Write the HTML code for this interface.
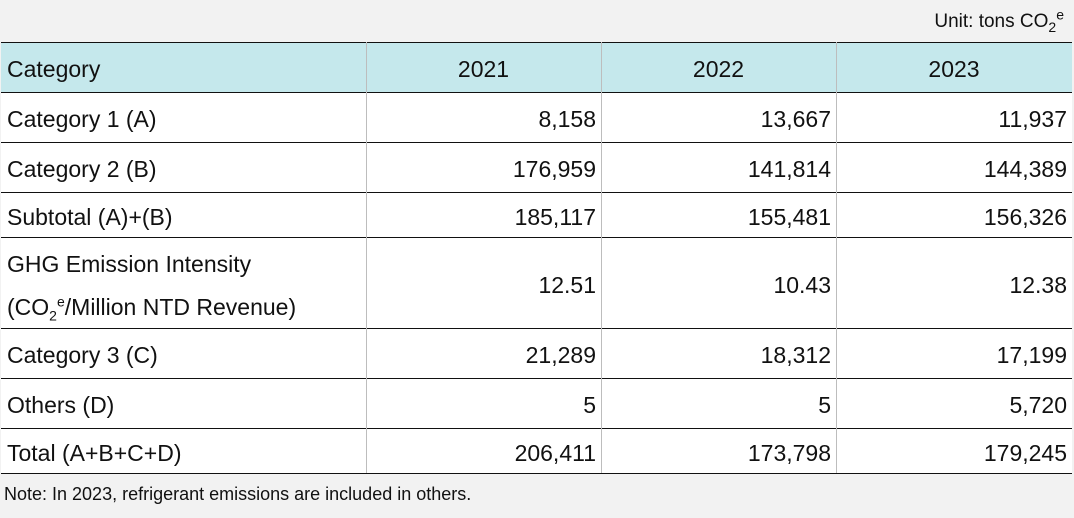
<!DOCTYPE html>
<html><head><meta charset="utf-8"><style>
body{margin:0;width:1074px;height:518px;background:#f2f2f2;font-family:"Liberation Sans",sans-serif;color:#111;position:relative;overflow:hidden}
.a{position:absolute}
.hl{position:absolute;left:1px;width:1071px;height:1.5px;background:#111}
.vl{position:absolute;width:1px;background:#bdbdbd}
.t{position:absolute;font-size:23px;line-height:26px;white-space:nowrap}
sub,sup{font-size:14px;line-height:0}
</style></head><body>
<div class="a" style="right:10px;top:11px;font-size:19px">Unit: tons CO<sub>2</sub><sup>e</sup></div>
<div class="a" style="left:1px;top:42px;width:1071px;height:50px;background:#c5e8ec"></div>
<div class="a" style="left:1px;top:92px;width:1071px;height:381px;background:#fff"></div>
<div id="lines"></div>
<div id="cells"></div>
<div class="a" style="left:4px;top:484px;font-size:18px">Note: In 2023, refrigerant emissions are included in others.</div>
<script>
const rowsY=[42,92,142,192,237,328,378,428,473];
const labels=["Category","Category 1 (A)","Category 2 (B)","Subtotal (A)+(B)","GHG|(CO<sub>2</sub><sup>e</sup>/Million NTD Revenue)","Category 3 (C)","Others (D)","Total (A+B+C+D)"];
const years=["2021","2022","2023"];
const v2021=["8,158","176,959","185,117","12.51","21,289","5","206,411"];
const v2022=["13,667","141,814","155,481","10.43","18,312","5","173,798"];
const v2023=["11,937","144,389","156,326","12.38","17,199","5,720","179,245"];
const colX=[1,366,601,836,1072];
const L=document.getElementById('lines'),C=document.getElementById('cells');
rowsY.forEach(y=>{const d=document.createElement('div');d.className='hl';d.style.top=(y-0.5)+'px';


L.appendChild(d);});
[366,601,836].forEach(x=>{const d=document.createElement('div');d.className='vl';d.style.left=x+'px';d.style.top='42px';d.style.height='431px';


L.appendChild(d);});
function cell(html,x,y0,y1,w,align,name){const d=document.createElement('div');d.className='t';


d.innerHTML=html;
if(align==='r'){d.style.left=(x-w)+'px';d.style.width=w+'px';d.style.textAlign='right';}
else if(align==='c'){d.style.left=x+'px';d.style.width=w+'px';d.style.textAlign='center';}
else d.style.left=x+'px';
d.style.top=((y0+y1)/2-11)+'px';C.appendChild(d);return d;}
labels.forEach((l,i)=>{const y0=rowsY[i],y1=rowsY[i+1];
if(l.startsWith('GHG')){cell('GHG Emission Intensity',7,y0,y0+50,0,'l','row-label');cell(l.split('|')[1],7,y1-50,y1+4,0,'l','row-label');}
else cell(l,7,y0,y1,0,'l',i===0?'header-category':'row-label');});
years.forEach((yr,j)=>cell(yr,colX[j+1],42,92,colX[j+2]-colX[j+1],'c','header-year'));
[v2021,v2022,v2023].forEach((arr,j)=>arr.forEach((v,i)=>cell(v,colX[j+2]-5,rowsY[i+1],rowsY[i+2],200,'r','value-cell')));
</script>
</body></html>
